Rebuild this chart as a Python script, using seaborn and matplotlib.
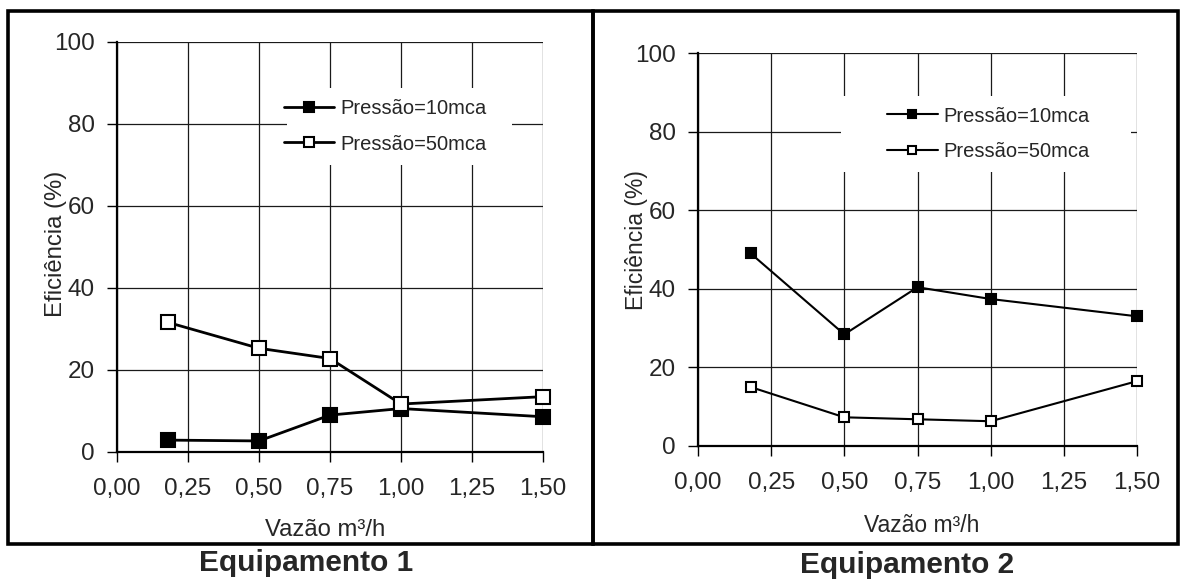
import numpy as np
import pandas as pd
import seaborn as sns
import matplotlib.pyplot as plt
from matplotlib.patches import Rectangle
from matplotlib.ticker import FuncFormatter

# dados
vazao = [0.18, 0.50, 0.75, 1.00, 1.50]
eq1_10mca = [2.9, 2.7, 9.0, 10.6, 8.6]
eq1_50mca = [31.6, 25.3, 22.8, 11.7, 13.5]
eq2_10mca = [49.0, 28.4, 40.4, 37.4, 33.0]
eq2_50mca = [15.0, 7.3, 6.8, 6.3, 16.5]

series = ["Pressão=10mca", "Pressão=50mca"]
titulos = ["Equipamento 1", "Equipamento 2"]
xticks = [0, 0.25, 0.5, 0.75, 1.0, 1.25, 1.5]
yticks = [0, 20, 40, 60, 80, 100]

df = pd.DataFrame({
    "Vazao": vazao * 4,
    "Eficiencia": eq1_10mca + eq1_50mca + eq2_10mca + eq2_50mca,
    "Serie": [series[0]] * 5 + [series[1]] * 5 + [series[0]] * 5 + [series[1]] * 5,
    "Equip": [titulos[0]] * 10 + [titulos[1]] * 10,
})

sns.set_theme(style="white")
plt.rcParams["font.family"] = ["Liberation Sans", "DejaVu Sans"]

fig = plt.figure(figsize=(11.83, 5.8), dpi=100)

# posicoes (pixels) de cada painel
W, H = 1183, 580
layout = [
    dict(ax=(117, 543, 42, 452), leg_box=(287, 512, 88, 165), leg_c=(0.630, 0.794),
         xlab=(325, 530), ylab=(56, 244), tit=(306, 563), frame=(8, 593),
         lw=2.0, ms=9.5, lab=17.2),
    dict(ax=(698, 1137, 53, 446), leg_box=(841, 1131, 96, 172), leg_c=(0.662, 0.795),
         xlab=(922, 526), ylab=(636, 240), tit=(907, 565), frame=(593, 1178),
         lw=1.5, ms=7.5, lab=16.5),
]

fmt = FuncFormatter(lambda v, p: f"{v:.2f}".replace(".", ","))

for i, (equip, cfg) in enumerate(zip(titulos, layout)):
    x0, x1, y0, y1 = cfg["ax"]
    ax = fig.add_axes([x0 / W, 1 - y1 / H, (x1 - x0) / W, (y1 - y0) / H])
    sub = df[df["Equip"] == equip]
    for serie, mfc in zip(series, ["black", "white"]):
        d = sub[sub["Serie"] == serie]
        sns.lineplot(data=d, x="Vazao", y="Eficiencia", ax=ax, color="black",
                     marker="s", markersize=cfg["ms"], mfc=mfc, mec="black",
                     mew=1.5, lw=cfg["lw"], label=serie, clip_on=False, zorder=3)

    ax.set_xlim(0, 1.5)
    ax.set_ylim(0, 100)
    ax.set_xticks(xticks)
    ax.set_yticks(yticks)
    ax.xaxis.set_major_formatter(fmt)
    ax.set_axisbelow(True)
    ax.grid(True, color="#1a1a1a", lw=0.9)
    for s in ["top", "right"]:
        ax.spines[s].set_visible(False)
    for s in ["left", "bottom"]:
        ax.spines[s].set_color("black")
        ax.spines[s].set_linewidth(1.6)
    ax.tick_params(axis="x", direction="out", length=7, width=1, color="black",
                   labelsize=17.5, pad=12, bottom=True)
    ax.tick_params(axis="y", direction="out", length=7, width=1, color="black",
                   labelsize=17.5, pad=9, left=True)

    # caixa branca da legenda sobre a grade
    bx0, bx1, by0, by1 = cfg["leg_box"]
    ax.add_patch(Rectangle(((bx0 - x0) / (x1 - x0), (y1 - by1) / (y1 - y0)),
                           (bx1 - bx0) / (x1 - x0), (by1 - by0) / (y1 - y0),
                           transform=ax.transAxes, facecolor="white",
                           edgecolor="none", zorder=1))
    ax.legend(loc="center", bbox_to_anchor=cfg["leg_c"], frameon=False,
              fontsize=14.5, handlelength=2.5, handletextpad=0.3,
              labelspacing=0.8, borderpad=0.2, markerscale=0.8)

    lx, ly = cfg["xlab"]
    ax.set_xlabel("Vazão m³/h", fontsize=cfg["lab"], va="center")
    ax.xaxis.set_label_coords((lx - x0) / (x1 - x0), (y1 - ly) / (y1 - y0))
    yx, yy = cfg["ylab"]
    ax.set_ylabel("Eficiência (%)", fontsize=cfg["lab"], va="center")
    ax.yaxis.set_label_coords((yx - x0) / (x1 - x0), (y1 - yy) / (y1 - y0))

    tx, ty = cfg["tit"]
    fig.text(tx / W, 1 - ty / H, equip, ha="center", va="center",
             fontsize=21.5, fontweight="bold")

    fx0, fx1 = cfg["frame"]
    fig.patches.append(Rectangle((fx0 / W, 1 - 544 / H), (fx1 - fx0) / W, 533 / H,
                                 transform=fig.transFigure, fill=False,
                                 edgecolor="black", lw=2.6))

fig.savefig("out.png", dpi=100)
